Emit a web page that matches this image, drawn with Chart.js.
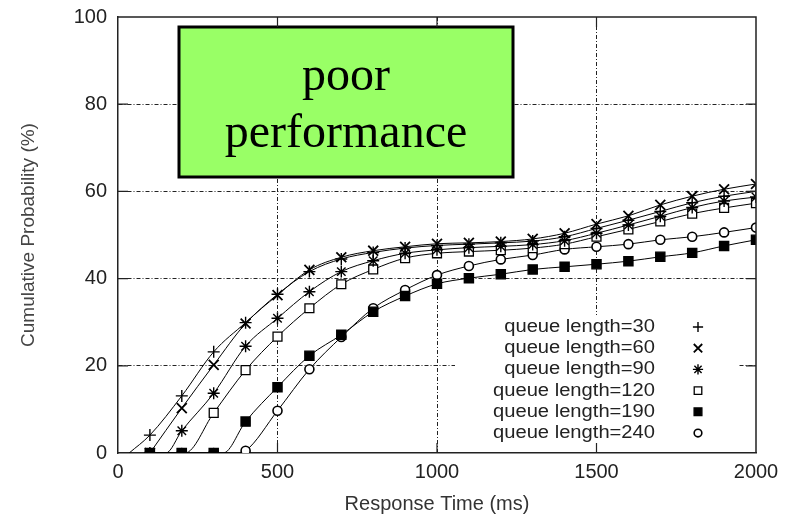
<!DOCTYPE html>
<html>
<head>
<meta charset="utf-8">
<title>Response time CDF</title>
<script src="https://cdn.jsdelivr.net/npm/chart.js@4.4.1/dist/chart.umd.min.js"></script>
<style>
  html, body { margin: 0; padding: 0; background: #fff; }
  #wrap { position: relative; width: 790px; height: 519px; }
</style>
</head>
<body>
<div id="wrap"><canvas id="cdfChart"></canvas></div>
<script>
/* ── data ── */
var timesMs = [100, 200, 300, 400, 500, 600, 700, 800, 900, 1000,
               1100, 1200, 1300, 1400, 1500, 1600, 1700, 1800, 1900, 2000];

var q30  = [4.1, 13.1, 23.2, 29.9, 36.4, 41.6, 44.5, 46.0, 47.0, 47.6,
            47.9, 48.2, 48.6, 49.6, 51.5, 53.4, 55.4, 57.4, 58.9, 60.0];
var q60  = [0, 10.3, 20.2, 29.7, 36.2, 42.0, 44.9, 46.4, 47.3, 48.0,
            48.2, 48.5, 49.1, 50.4, 52.5, 54.4, 56.9, 58.9, 60.5, 61.7];
var q90  = [0, 5.1, 13.7, 24.5, 30.9, 37.0, 41.6, 44.1, 45.8, 46.6,
            47.1, 47.4, 47.8, 48.7, 50.4, 52.3, 54.3, 56.3, 57.8, 58.7];
var q120 = [0, 0, 9.2, 19.0, 26.7, 33.2, 38.7, 42.1, 44.7, 45.8,
            46.2, 46.5, 47.0, 47.9, 49.6, 51.3, 53.1, 54.9, 56.2, 57.3];
var q190 = [0, 0, 0, 7.2, 15.1, 22.3, 27.1, 32.4, 36.0, 38.8,
            40.1, 41.0, 42.1, 42.7, 43.3, 44.0, 45.0, 45.9, 47.5, 48.9];
var q240 = [0, 0, 0, 0.5, 9.7, 19.2, 26.6, 33.2, 37.4, 40.8,
            42.9, 44.4, 45.4, 46.7, 47.3, 47.9, 48.9, 49.6, 50.6, 51.7];

/* where each curve leaves the x axis (ms) */
var leaveZeroMs = [35, 100, 150, 210, 330, 372];

var seriesLabels = ['queue length=30', 'queue length=60', 'queue length=90',
                    'queue length=120', 'queue length=190', 'queue length=240'];
var seriesValues = [q30, q60, q90, q120, q190, q240];

var xTicks = [0, 500, 1000, 1500, 2000];
var yTicks = [0, 20, 40, 60, 80, 100];

var noteLines = ['poor', 'performance'];

/* ── marker styles ── */
var markStyles = [
  { style: 'cross',    r: 6,   fill: '#000', bw: 1.4 },
  { style: 'crossRot', r: 7,   fill: '#000', bw: 1.8 },
  { style: 'star',     r: 6,   fill: '#000', bw: 1.4 },
  { style: 'rect',     r: 6.3, fill: '#fff', bw: 1.3 },
  { style: 'rect',     r: 6.5, fill: '#000', bw: 1.3 },
  { style: 'circle',   r: 4.5, fill: '#fff', bw: 1.6 }
];

var SANS = '"Liberation Sans", Arial, sans-serif';

function buildPoints(values, start) {
  var pts = timesMs.map(function(t, i) { return { x: t, y: values[i] }; });
  if (timesMs.indexOf(start) < 0) pts.push({ x: start, y: 0 });
  pts.sort(function(a, b) { return a.x - b.x; });
  return pts;
}

var datasets = seriesValues.map(function(vals, i) {
  var m = markStyles[i];
  return {
    label: seriesLabels[i],
    data: buildPoints(vals, leaveZeroMs[i]),
    borderColor: '#000',
    borderWidth: 1,
    cubicInterpolationMode: 'monotone',
    pointStyle: m.style,
    pointRadius: function(ctx) {
      var r = ctx.raw;
      return r && r.x % 100 === 0 ? m.r : 0;
    },
    pointBackgroundColor: m.fill,
    pointBorderColor: '#000',
    pointBorderWidth: m.bw,
    /* filled squares sit on top of the others at 0 */
    order: i === 4 ? 0 : 1
  };
});

/* ════════════════════════════════════════
   Frame, inward ticks, legend, note box
════════════════════════════════════════ */
function mark(ctx, m, x, y) {
  ctx.fillStyle = m.fill;
  ctx.strokeStyle = '#000';
  ctx.lineWidth = m.bw;
  if (Chart.helpers && Chart.helpers.drawPoint) {
    Chart.helpers.drawPoint(ctx, { pointStyle: m.style, radius: m.r, borderWidth: m.bw, rotation: 0 }, x, y);
  }
}

var decorPlugin = {
  id: 'decor',
  afterDatasetsDraw: function(chart) {
    var ctx = chart.ctx, a = chart.chartArea;
    var xs = chart.scales.x, ys = chart.scales.y;
    ctx.save();

    /* legend backdrop hides the grid */
    var lgTop = a.top + 298;
    ctx.fillStyle = '#fff';
    ctx.fillRect(a.left + 337, lgTop, a.right - 18 - (a.left + 337), 128);

    /* note box */
    var bx = a.left + 61, by = a.top + 10, bw = 334, bh = 150;
    ctx.fillStyle = '#99ff66';
    ctx.fillRect(bx, by, bw, bh);
    ctx.lineWidth = 3;
    ctx.strokeStyle = '#000';
    ctx.strokeRect(bx, by, bw, bh);
    ctx.fillStyle = '#000';
    ctx.font = '48px "Liberation Serif", "Times New Roman", serif';
    ctx.textAlign = 'center';
    ctx.textBaseline = 'alphabetic';
    noteLines.forEach(function(t, i) {
      ctx.fillText(t, bx + bw / 2, by + 63 + i * 57);
    });

    /* legend */
    ctx.font = '18px ' + SANS;
    ctx.textAlign = 'right';
    ctx.textBaseline = 'middle';
    seriesLabels.forEach(function(lbl, i) {
      var y = lgTop + 12 + i * 21.2;
      ctx.save();
      ctx.translate(a.left + 537, y);
      ctx.scale(1.12, 1);
      ctx.fillStyle = '#222';
      ctx.fillText(lbl, 0, 0);
      ctx.restore();
      var m = markStyles[i];
      mark(ctx, { style: m.style, r: m.r * 0.85, fill: m.fill, bw: m.bw }, a.left + 580, y);
    });

    /* top and right frame */
    ctx.strokeStyle = '#222';
    ctx.lineWidth = 1.5;
    ctx.beginPath();
    ctx.moveTo(a.left, a.top);
    ctx.lineTo(a.right, a.top);
    ctx.lineTo(a.right, a.bottom);
    ctx.stroke();

    /* inward tick marks on all four sides */
    ctx.lineWidth = 1.2;
    ctx.beginPath();
    yTicks.forEach(function(v) {
      if (v === yTicks[0] || v === yTicks[yTicks.length - 1]) return;
      var y = ys.getPixelForValue(v);
      ctx.moveTo(a.left, y);  ctx.lineTo(a.left + 10, y);
      ctx.moveTo(a.right, y); ctx.lineTo(a.right - 10, y);
    });
    xTicks.forEach(function(v) {
      if (v === xTicks[0] || v === xTicks[xTicks.length - 1]) return;
      var x = xs.getPixelForValue(v);
      ctx.moveTo(x, a.bottom); ctx.lineTo(x, a.bottom - 10);
      ctx.moveTo(x, a.top);    ctx.lineTo(x, a.top + 10);
    });
    ctx.stroke();
    ctx.restore();
  }
};

function gridColor(first, last) {
  return function(c) {
    if (!c.tick) return 'rgba(0,0,0,0)';
    return (c.tick.value === first || c.tick.value === last) ? 'rgba(0,0,0,0)' : '#222';
  };
}

function plainTick(v) { return String(v); }

new Chart(document.getElementById('cdfChart').getContext('2d'), {
  type: 'line',
  data: { datasets: datasets },
  plugins: [decorPlugin],
  options: {
    responsive: true,
    maintainAspectRatio: false,
    animation: false,
    events: [],
    layout: { padding: { left: 0, right: 34, top: 17, bottom: 0 } },
    plugins: { legend: { display: false }, tooltip: { enabled: false } },
    scales: {
      x: {
        type: 'linear',
        min: xTicks[0],
        max: xTicks[xTicks.length - 1],
        ticks: { stepSize: 500, padding: 7, color: '#222', font: { family: SANS, size: 20 }, callback: plainTick },
        grid: { color: gridColor(0, 2000), lineWidth: 1, drawTicks: false },
        border: { display: true, color: '#222', width: 1.5, dash: [4, 2, 1, 2] },
        title: { display: true, text: 'Response Time (ms)', color: '#333',
                 font: { family: SANS, size: 20 }, padding: { top: 0, bottom: 3 } },
        afterFit: function(s) { s.height = 66; s.paddingLeft = 0; s.paddingRight = 0; }
      },
      y: {
        min: yTicks[0],
        max: yTicks[yTicks.length - 1],
        ticks: { stepSize: 20, padding: 11, color: '#222', font: { family: SANS, size: 20 }, callback: plainTick },
        grid: { color: gridColor(0, 100), lineWidth: 1, drawTicks: false },
        border: { display: true, color: '#222', width: 1.5, dash: [4, 2, 1, 2] },
        title: { display: true, text: 'Cumulative Probability (%)', color: '#444',
                 font: { family: SANS, size: 19 }, padding: { top: 17, bottom: 0 } },
        afterFit: function(s) { s.width = 118; s.paddingTop = 0; s.paddingBottom = 0; }
      }
    }
  }
});
</script>
</body>
</html>
